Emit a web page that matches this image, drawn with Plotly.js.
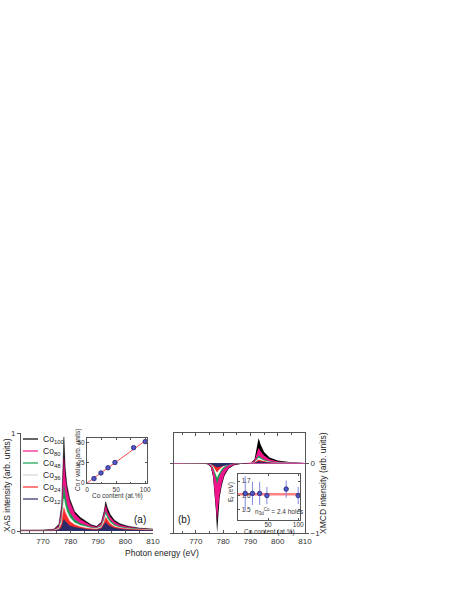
<!DOCTYPE html>
<html>
<head>
<meta charset="utf-8">
<script src="https://cdn.plot.ly/plotly-3.0.1.min.js"></script>
<style>
  html, body { margin: 0; padding: 0; background: #fff; }
  #chart { width: 474px; height: 614px; }
</style>
</head>
<body>
<div id="chart"></div>
<script>
// Co L2,3 XAS (a) and XMCD (b) spectra for the Co_x series, with insets

// sample names and colours (largest first, drawn first)
const samples = ['Co<sub>100</sub>', 'Co<sub>80</sub>', 'Co<sub>48</sub>', 'Co<sub>36</sub>', 'Co<sub>24</sub>', 'Co<sub>12</sub>'];
const fillColors = ['#000000', '#f0148c', '#12a04e', '#ffffff', '#ff2b2b', '#2c2c68'];
const legendColors = ['#000000', '#f0148c', '#12a04e', '#d6d6d6', '#ff2b2b', '#2c2c68'];

// (a) XAS spectra
const energyXas = [762, 770, 774, 775.8, 776.8, 777.2, 777.6, 778.1, 778.7, 779.7, 781.5, 783.5, 785.5, 787.5, 789.5, 791.2, 792.2, 792.8, 793.4, 794.4, 796, 798, 801, 805, 810];
const xasCo100 = [0.01, 0.01, 0.02, 0.07, 0.27, 0.58, 0.96, 0.64, 0.47, 0.33, 0.2, 0.14, 0.1, 0.065, 0.05, 0.09, 0.2, 0.3, 0.24, 0.17, 0.11, 0.075, 0.05, 0.03, 0.02];
const xasCo80 = [0.008, 0.008, 0.016, 0.055, 0.22, 0.5, 0.74, 0.55, 0.42, 0.3, 0.18, 0.12, 0.085, 0.055, 0.042, 0.08, 0.18, 0.26, 0.2, 0.145, 0.095, 0.062, 0.04, 0.025, 0.016];
const xasCo48 = [0.005, 0.005, 0.01, 0.035, 0.15, 0.32, 0.46, 0.36, 0.27, 0.19, 0.115, 0.078, 0.055, 0.038, 0.032, 0.058, 0.13, 0.2, 0.16, 0.11, 0.07, 0.045, 0.03, 0.02, 0.012];
const xasCo36 = [0.004, 0.004, 0.008, 0.028, 0.11, 0.23, 0.33, 0.26, 0.2, 0.14, 0.085, 0.058, 0.042, 0.03, 0.025, 0.046, 0.11, 0.17, 0.13, 0.09, 0.055, 0.035, 0.024, 0.015, 0.01];
const xasCo24 = [0.003, 0.003, 0.006, 0.02, 0.08, 0.17, 0.24, 0.19, 0.15, 0.1, 0.065, 0.043, 0.032, 0.022, 0.019, 0.036, 0.09, 0.14, 0.11, 0.075, 0.045, 0.03, 0.02, 0.012, 0.008];
const xasCo12 = [0.002, 0.002, 0.004, 0.012, 0.045, 0.09, 0.12, 0.1, 0.08, 0.055, 0.038, 0.027, 0.02, 0.014, 0.012, 0.025, 0.06, 0.09, 0.07, 0.05, 0.03, 0.02, 0.013, 0.008, 0.005];

// (b) XMCD spectra
const energyXmcd = [762, 772, 774.5, 775.5, 776.3, 777, 777.4, 777.8, 778.2, 778.7, 779.5, 780.5, 782, 784, 787, 790, 791.5, 792.3, 793, 793.7, 795, 797, 800, 805, 810];
const xmcdCo100 = [0, 0, -0.02, -0.06, -0.2, -0.5, -0.7, -1.0, -0.7, -0.5, -0.32, -0.18, -0.08, -0.03, -0.008, 0, 0.05, 0.2, 0.36, 0.27, 0.16, 0.08, 0.035, 0.01, 0];
const xmcdCo80 = [0, 0, -0.018, -0.05, -0.18, -0.45, -0.62, -0.82, -0.62, -0.45, -0.29, -0.16, -0.07, -0.025, -0.006, 0, 0.035, 0.13, 0.22, 0.17, 0.11, 0.055, 0.022, 0.008, 0];
const xmcdCo48 = [0, 0, -0.008, -0.025, -0.08, -0.18, -0.24, -0.3, -0.24, -0.18, -0.12, -0.07, -0.03, -0.012, -0.003, 0, 0.015, 0.06, 0.11, 0.085, 0.05, 0.025, 0.01, 0.004, 0];
const xmcdCo36 = [0, 0, -0.006, -0.02, -0.06, -0.13, -0.17, -0.21, -0.17, -0.13, -0.085, -0.05, -0.022, -0.009, -0.002, 0, 0.01, 0.045, 0.08, 0.062, 0.037, 0.018, 0.008, 0.003, 0];
const xmcdCo24 = [0, 0, -0.005, -0.015, -0.045, -0.09, -0.11, -0.14, -0.11, -0.09, -0.06, -0.035, -0.016, -0.006, -0.002, 0, 0.007, 0.03, 0.05, 0.04, 0.025, 0.012, 0.005, 0.002, 0];
const xmcdCo12 = [0, 0, -0.005, -0.012, -0.03, -0.05, -0.058, -0.065, -0.06, -0.055, -0.045, -0.03, -0.015, -0.006, -0.002, 0, 0.004, 0.017, 0.03, 0.024, 0.015, 0.008, 0.003, 0.001, 0];

// inset (a): Co r value vs Co content
const coContent = [12, 24, 36, 48, 80, 100];
const rValue = [5.5, 12.5, 19, 25.5, 44, 51.5];
const rFitX = [0, 100];
const rFitY = [0, 52.5];

// inset (b): E_r vs Co content
const erValue = [1.615, 1.615, 1.615, 1.6, 1.645, 1.6];
const erError = [0.12, 0.08, 0.08, 0.06, 0.06, 0.06];
const erMeanX = [0, 103];
const erMeanY = [1.61, 1.61];

const xasData = [xasCo100, xasCo80, xasCo48, xasCo36, xasCo24, xasCo12];
const xmcdData = [xmcdCo100, xmcdCo80, xmcdCo48, xmcdCo36, xmcdCo24, xmcdCo12];

// pixel -> paper helpers (page is 474 x 614, no margins)
const W = 474, H = 614;
const px = v => v / W;
const py = v => 1 - v / H;

const traces = [];
xasData.forEach((ys, i) => {
  traces.push({
    x: energyXas, y: ys, type: 'scatter', mode: 'lines',
    fill: 'tozeroy', fillcolor: fillColors[i],
    line: { color: fillColors[i], width: 0.4 },
    xaxis: 'x', yaxis: 'y', showlegend: false, hoverinfo: 'skip'
  });
});
xmcdData.forEach((ys, i) => {
  traces.push({
    x: energyXmcd, y: ys, type: 'scatter', mode: 'lines',
    fill: 'tozeroy', fillcolor: fillColors[i],
    line: { color: fillColors[i], width: 0 },
    xaxis: 'x2', yaxis: 'y2', showlegend: false, hoverinfo: 'skip'
  });
});

// inset (a)
traces.push({
  x: rFitX, y: rFitY, type: 'scatter', mode: 'lines',
  line: { color: '#ff4a4a', width: 1 }, xaxis: 'x3', yaxis: 'y3', showlegend: false
});
traces.push({
  x: coContent, y: rValue, type: 'scatter', mode: 'markers',
  marker: { color: '#5058c8', size: 4.5, line: { color: '#1e1e70', width: 0.8 } },
  xaxis: 'x3', yaxis: 'y3', showlegend: false
});

// inset (b)
traces.push({
  x: erMeanX, y: erMeanY, type: 'scatter', mode: 'lines',
  line: { color: 'rgba(255,90,90,0.75)', width: 2.5 }, xaxis: 'x4', yaxis: 'y4', showlegend: false
});
traces.push({
  x: coContent, y: erValue, type: 'scatter', mode: 'markers',
  error_y: { type: 'data', array: erError, color: '#8088dd', thickness: 1, width: 0 },
  marker: { color: '#5058c8', size: 4.5, line: { color: '#1e1e70', width: 0.8 } },
  xaxis: 'x4', yaxis: 'y4', showlegend: false
});

const tickFont = { family: 'Liberation Sans, Arial, sans-serif', size: 8, color: '#333' };
const smallFont = { family: 'Liberation Sans, Arial, sans-serif', size: 6.5, color: '#333' };

const baseAxis = {
  showgrid: false, zeroline: false, showline: true,
  linecolor: '#555', linewidth: 1, tickcolor: '#555', tickfont: tickFont
};

const energyAxis = Object.assign({}, baseAxis, {
  range: [762, 810], tickvals: [770, 780, 790, 800, 810],
  ticks: 'inside', ticklen: 3,
  minor: { dtick: 5, tick0: 760, ticks: 'inside', ticklen: 2, tickcolor: '#555' }
});

const layout = {
  width: W, height: H,
  margin: { l: 0, r: 0, t: 0, b: 0 },
  paper_bgcolor: '#fff', plot_bgcolor: '#fff',
  showlegend: false,
  xaxis: Object.assign({}, energyAxis, { domain: [px(21), px(153)], anchor: 'y' }),
  yaxis: Object.assign({}, baseAxis, {
    domain: [py(533), py(433)], anchor: 'x', range: [-0.02, 1],
    tickvals: [0, 1], ticks: 'outside', ticklen: 3
  }),
  xaxis2: Object.assign({}, energyAxis, { domain: [px(174), px(305)], anchor: 'y2', mirror: 'ticks' }),
  yaxis2: Object.assign({}, baseAxis, {
    domain: [py(533), py(433)], anchor: 'x2', side: 'right', range: [-1, 0.43],
    tickvals: [-1, 0], ticks: 'outside', ticklen: 3, mirror: 'ticks',
    zeroline: true, zerolinecolor: '#c04a98', zerolinewidth: 1
  }),
  xaxis3: Object.assign({}, baseAxis, {
    domain: [px(87), px(147)], anchor: 'y3', range: [0, 103],
    tickvals: [0, 50, 100], ticks: 'inside', ticklen: 2, mirror: 'ticks', tickfont: smallFont,
    minor: { dtick: 25, ticks: 'inside', ticklen: 1.5, tickcolor: '#555' }
  }),
  yaxis3: Object.assign({}, baseAxis, {
    domain: [py(483), py(438)], anchor: 'x3', range: [0, 56],
    tickvals: [0, 25, 50], ticks: 'inside', ticklen: 2, mirror: 'ticks', tickfont: smallFont
  }),
  xaxis4: Object.assign({}, baseAxis, {
    domain: [px(238), px(300)], anchor: 'y4', range: [0, 103],
    tickvals: [0, 50, 100], ticks: 'inside', ticklen: 2, mirror: 'ticks', tickfont: smallFont,
    ticklabelstandoff: -2
  }),
  yaxis4: Object.assign({}, baseAxis, {
    domain: [py(520), py(474)], anchor: 'x4', range: [1.43, 1.75],
    tickvals: [1.5, 1.6, 1.7], ticks: 'inside', ticklen: 2, mirror: 'ticks', tickfont: smallFont,
    ticklabelposition: 'inside'
  }),
  shapes: [],
  annotations: []
};

const txt = (x, y, text, font, extra) => Object.assign({
  xref: 'paper', yref: 'paper', x: px(x), y: py(y), text: text,
  showarrow: false, font: font, xanchor: 'center', yanchor: 'middle'
}, extra || {});

const labelFont = { family: 'Liberation Sans, Arial, sans-serif', size: 8.5, color: '#222' };

// legend, drawn by hand so the rows stay tight
samples.forEach((name, i) => {
  const y = 439 + i * 12;
  layout.shapes.push({
    type: 'line', xref: 'paper', yref: 'paper',
    x0: px(23), x1: px(38), y0: py(y), y1: py(y),
    line: { color: legendColors[i], width: 1.2 }
  });
  layout.annotations.push(txt(41, y, name, labelFont, { xanchor: 'left' }));
});

layout.annotations.push(
  txt(162, 553, 'Photon energy (eV)', labelFont),
  txt(7, 485, 'XAS intensity (arb. units)', labelFont, { textangle: -90 }),
  txt(323, 483, 'XMCD intensity (arb. units)', labelFont, { textangle: -90 }),
  txt(140, 519, '(a)', { family: 'Liberation Sans, Arial, sans-serif', size: 10, color: '#111' }),
  txt(184, 519, '(b)', { family: 'Liberation Sans, Arial, sans-serif', size: 10, color: '#111' }),
  txt(78, 460, 'Co r value (arb. units)', smallFont, { textangle: -90 }),
  txt(117, 496, 'Co content (at.%)', smallFont),
  txt(231, 492, 'E<sub>r</sub> (eV)', smallFont, { textangle: -90 }),
  txt(269, 532, 'Co content (at.%)', smallFont),
  txt(253, 511, 'n<sub>3d</sub><sup>Co</sup> = 2.4 holes', smallFont, { xanchor: 'left' })
);

Plotly.newPlot('chart', traces, layout, { staticPlot: true });
</script>
</body>
</html>
